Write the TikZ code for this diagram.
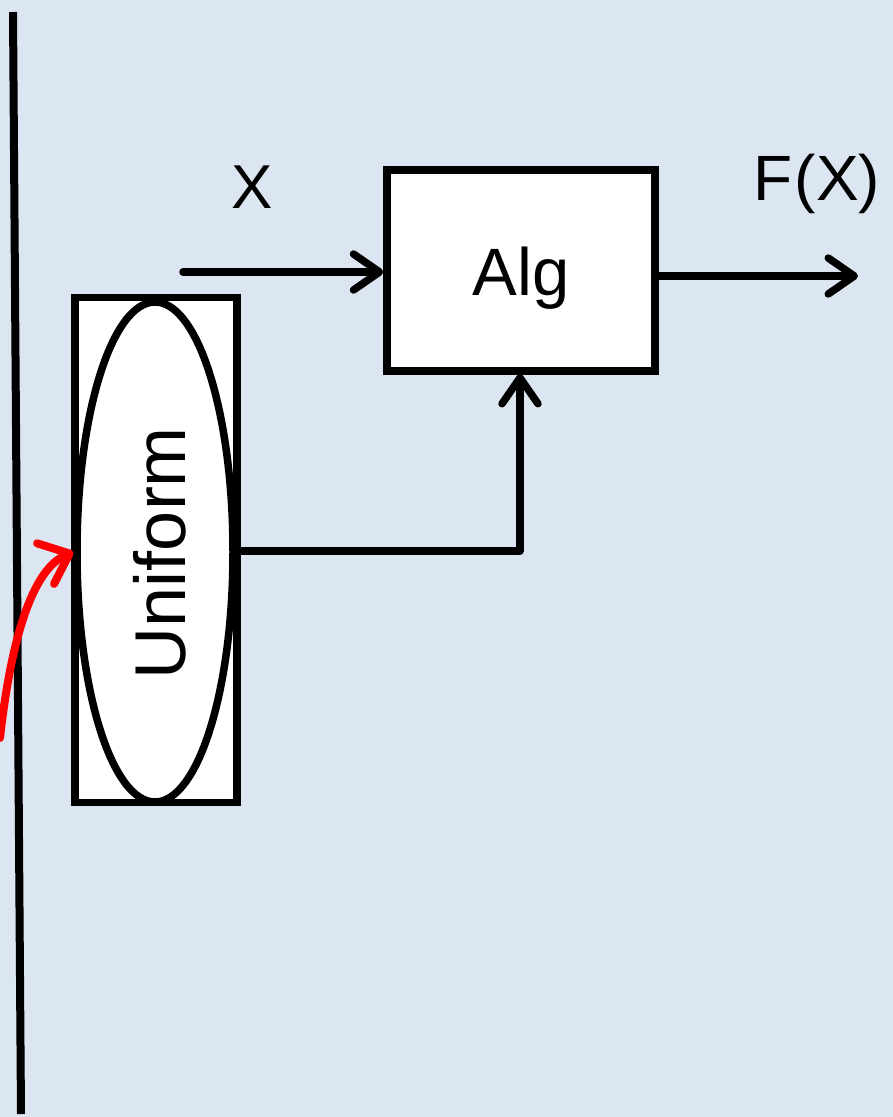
\documentclass[tikz,border=0pt]{standalone}
\usepackage{fontspec}
\setmainfont{Liberation Sans}
\usetikzlibrary{arrows.meta,shapes.geometric}
\definecolor{bg}{HTML}{DCE6F2}
\definecolor{redline}{HTML}{FF0000}
\tikzset{
  thick line/.style={line width=7.5pt, line cap=round, line join=round},
  arr/.style={thick line, -{Straight Barb[length=26pt,width=36pt,line cap=round,line join=round]}},
  redarr/.style={line width=8pt, line cap=round, line join=round, draw=redline, -{Straight Barb[length=26pt,width=44pt,line cap=round,line join=round]}},
  lbl/.style={inner sep=0pt, font=\fontsize{62}{70}\selectfont},
}
\begin{document}
\begin{tikzpicture}[x=1pt,y=-1pt]
\path[fill=bg, use as bounding box] (0,0) rectangle (893,1117);
% vertical line
\coordinate (vtop) at (13,12);
\coordinate (vbot) at (21,1114);
\draw[line width=8pt] (vtop) -- (vbot);
% uniform rectangle and ellipse
\node[draw, fill=white, line width=7.5pt, minimum width=162pt, minimum height=505pt, inner sep=0pt] (urect) at (156,550) {};
\node[draw, fill=white, line width=7.5pt, ellipse, minimum width=156pt, minimum height=500pt, inner sep=0pt] (uell) at (155,552) {};
\node[lbl, rotate=90, font=\fontsize{72}{76}\selectfont] (utext) at (160,553) {Uniform};
% Alg box
\node[draw, fill=white, line width=7.5pt, minimum width=268pt, minimum height=201pt, inner sep=0pt] (alg) at (521,270.5) {};
\node[lbl, font=\fontsize{67}{70}\selectfont] (algtext) at (521,278) {Alg};
% labels
\node[lbl] (xlbl) at (252,187) {X};
\node[lbl, font=\fontsize{64}{70}\selectfont] (fxlbl) at (817,184) {F\kern2pt(X)};
% arrows
\coordinate (xin) at (183,272);
\draw[arr] (xin) -- (alg.west |- xin);
\coordinate (fout) at (858,276);
\draw[arr] (alg.east |- fout) -- (fout);
\draw[arr] (urect.east |- 0,551) -- (520,551) -- (520,374);
% red curve
\coordinate (rstart) at (0,738);
\draw[redarr] (rstart) .. controls (12,630) and (35,568) .. (uell.west);
\end{tikzpicture}
\end{document}
